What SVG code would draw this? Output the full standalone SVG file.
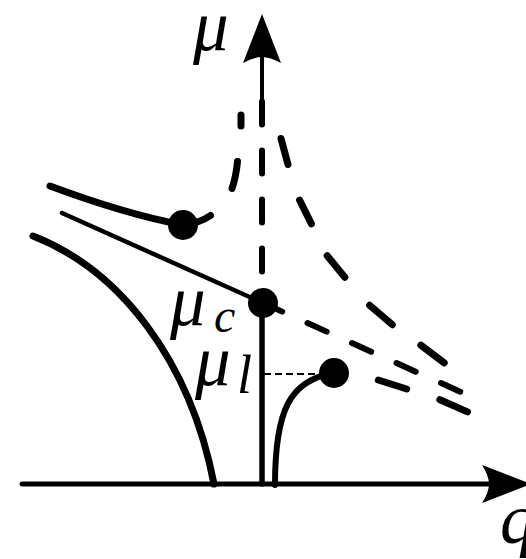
<svg xmlns="http://www.w3.org/2000/svg" width="526" height="559" viewBox="0 0 526 559">
<style>
.ln{fill:none;stroke:#000;stroke-linecap:round;stroke-linejoin:round}
.thick{stroke-width:7}
.mid{stroke-width:6}
.thin{stroke-width:4.5}
.axis{stroke-width:5}
.dot{fill:#000}
.lbl{font-family:"Liberation Serif","DejaVu Serif",serif;font-style:italic;fill:#000}
.big{font-size:71px}
.sub{font-size:48px}
</style>
<rect width="526" height="559" fill="#fff"/>
<g id="axes">
  <line class="ln axis" x1="22" y1="484" x2="490" y2="484"/>
  <path d="M531 484 L482 465 Q489 476 489 484 Q489 492 482 503 Z" fill="#000"/>
  <line class="ln" stroke-width="4" x1="262" y1="56" x2="262" y2="101"/>
  <path d="M262 14 L281 63 Q270 57 262 57 Q254 57 243 63 Z" fill="#000"/>
  <path class="ln mid" d="M262 101.5 L262 290" stroke-dasharray="23 26"/>
  <line class="ln" stroke-width="5.5" x1="262" y1="303" x2="262" y2="484"/>
</g>
<g id="connectors">
  <path id="left-curve" class="ln thick" d="M33 236 C120 270 190 360 214 484"/>
  <path id="upper-branch" class="ln thick" d="M50 186 Q125 214 183 225"/>
  <path id="upper-branch-dashed" class="ln thick" d="M183 225 Q200 223 210.5 215.5 M232 188.5 Q236 177 237.5 161.5 M241 126 L241 115"/>
  <path id="mid-line" class="ln thin" d="M62 213 L263 303"/>
  <path id="mid-line-dashed" class="ln mid" d="M263 303 L462 392.5" stroke-dasharray="21 27.8"/>
  <path id="right-curve-dashed" class="ln thick" d="M281 138.5 L288 164.5 M299.6 200.1 L311.4 223.9 M327.2 255.7 L344.8 277.3 M369.7 305.3 L392.3 324.7 M420.8 345.1 L444.2 362.9"/>
  <path id="lower-branch" class="ln mid" stroke-width="6.5" d="M334 373 C290 380 275 410 275 485"/>
  <path id="lower-branch-dashed" class="ln thick" d="M378.3 380 L406.7 389 M439.9 399.7 L467.5 411.9"/>
  <line id="mu-l-guide" x1="264" y1="374" x2="322" y2="374" stroke="#000" stroke-width="1.8" stroke-dasharray="7 4"/>
</g>
<g id="point-upper"><circle class="dot" cx="183" cy="225" r="15"/></g>
<g id="point-mu-c"><circle class="dot" cx="263" cy="303" r="15"/></g>
<g id="point-mu-l"><circle class="dot" cx="334" cy="373" r="15"/></g>
<g id="labels">
  <text class="lbl big" x="193" y="50">μ</text>
  <text class="lbl big" x="170" y="325">μ</text>
  <text class="lbl sub" x="214" y="332">c</text>
  <text class="lbl big" x="195" y="385">μ</text>
  <text class="lbl sub" x="237" y="393" style="font-size:54px">l</text>
  <text class="lbl big" x="500" y="543">q</text>
</g>
</svg>
